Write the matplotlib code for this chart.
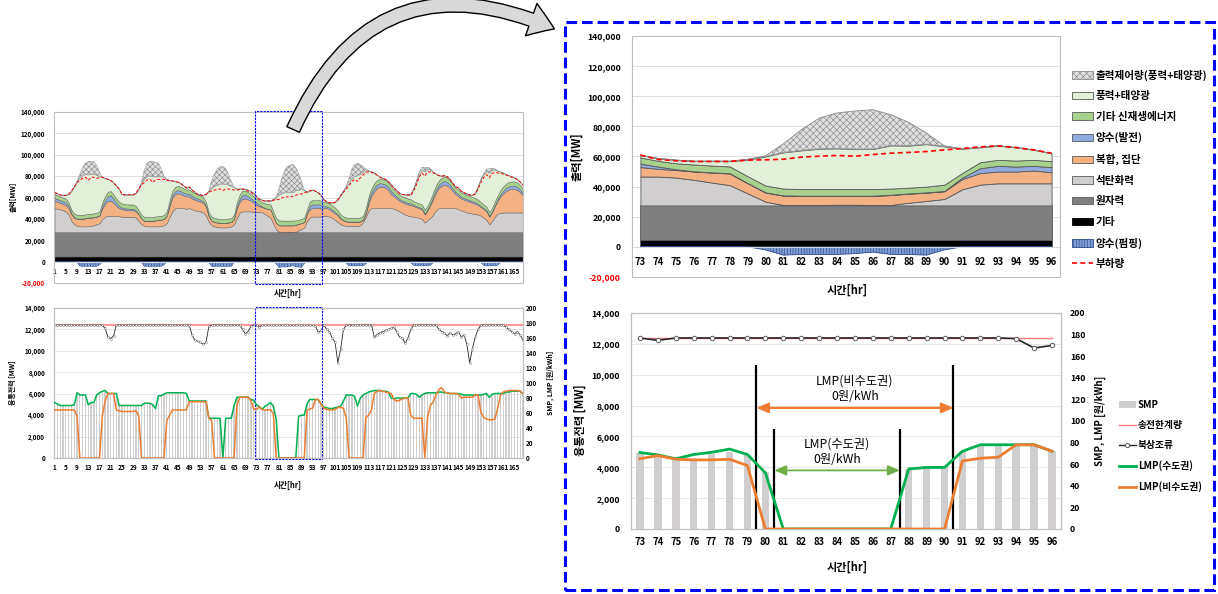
import numpy as np
import matplotlib
matplotlib.use('Agg')
import matplotlib.pyplot as plt
from matplotlib.patches import Patch, Rectangle, FancyArrowPatch
from matplotlib.lines import Line2D
from matplotlib.transforms import blended_transform_factory

plt.rcParams['font.family'] = ['Noto Sans CJK KR', 'DejaVu Sans']
plt.rcParams['hatch.linewidth'] = 0.45
plt.rcParams['axes.unicode_minus'] = False

W, H = 1218, 594

# ---- one week, hourly ----
hours = np.arange(1, 169)
etc_gw = 4.5        # 기타
nuclear_gw = 23.0   # 원자력

coal_gw = [
    22.5, 22, 21.5, 20.5, 19.5, 16.5, 10.5, 7.5, 6, 5.5, 5.5, 5.5, 5.5, 6, 6.5, 7.5, 8.5, 12.5, 14.5, 15.5, 15.5, 15.5, 15, 15,
    14.5, 14.5, 14.5, 14.5, 14.5, 13.5, 10.5, 7.5, 6, 5.5, 5.5, 5.5, 5.5, 5.5, 6, 6.5, 8.5, 14.5, 19.5, 22.5, 22.5, 22.5, 22.5, 22,
    22.5, 21.5, 20.5, 20, 19.5, 18.5, 15.5, 9.5, 6.5, 5.5, 5, 4.5, 4.5, 4.5, 5, 5.5, 7.5, 13.5, 18.5, 19.5, 19.5, 19.5, 19.5, 19,
    19.2, 19.2, 18.5, 17, 15.2, 13.5, 8, 2.5, 0.3, 0.3, 0.3, 0.5, 0.5, 0.3, 0.3, 1.8, 3, 4.3, 10.7, 13.8, 14.7, 14.7, 14.7, 14.7,
    15.5, 15.5, 14.5, 13.5, 11.5, 9.5, 7.5, 6.5, 6, 6, 6, 6, 6, 6.5, 9.5, 14.5, 20.5, 22.5, 22.5, 22.5, 22.5, 22.5, 22.5, 22.5,
    22.5, 22, 21, 19.5, 18, 16.5, 15.5, 15, 14.5, 14, 13.5, 12.5, 9, 11.5, 13.5, 16.5, 20.5, 22.5, 22.5, 22.5, 22.5, 22.5, 22.5, 22.5,
    21.5, 20.5, 19.5, 18.5, 18, 17.5, 17, 16.5, 15.5, 13.5, 11.5, 7.5, 10.5, 14.5, 17.5, 18, 18.5, 18.5, 18.5, 18.5, 18.5, 18.5, 18.5, 18.5,
]
lng_gw = [
    7, 6.5, 6, 6, 6, 6, 6, 6, 6.5, 7, 7, 7.5, 8, 7.5, 7.5, 7, 7, 10, 12, 14, 14, 12, 9.5, 7.5,
    7, 6.5, 6, 6, 6, 6, 6, 5, 4.5, 5, 5, 5, 5.5, 6, 5.5, 6, 7, 10, 13, 13, 14, 13, 12, 11.5,
    11, 10, 10, 9.5, 9, 9, 8, 5, 4, 4, 4, 4, 4, 4, 4, 4, 5, 9, 10, 12, 12, 11, 10, 8.5,
    6.3, 5.1, 5, 5.5, 6.6, 7.7, 6.7, 6, 6.2, 6, 6, 5.8, 5.8, 6, 6.6, 6, 5.5, 5.1, 6.8, 7.7, 7.8, 7.8, 8.5, 7.3,
    7.5, 7, 7, 6, 6, 6, 5, 4.5, 4, 3.7, 3.7, 3.7, 3.7, 3.5, 2, 3, 7, 12, 16, 19, 20, 20, 19, 17,
    13, 11.5, 10.5, 10, 10, 10.5, 10.5, 10.5, 10, 9.5, 9, 9, 7.5, 9, 12, 15, 17, 19, 21, 22, 21, 19, 16, 13,
    12, 11, 11, 11, 10.5, 10, 9.5, 9, 8, 8, 8, 7, 8, 10, 12, 15.5, 18, 20, 21.5, 22, 22, 21, 19, 16,
]
pump_gen_gw = [
    2.5, 2.5, 2.5, 2.5, 2.5, 2, 1, 0.5, 0.3, 0.3, 0.3, 0.3, 0.3, 0.3, 0.3, 0.3, 0.5, 2, 3.5, 4.5, 5, 4, 3, 2,
    1.5, 1.5, 1.5, 1.5, 1.5, 1, 0.5, 0.3, 0.3, 0.3, 0.3, 0.3, 0.3, 0.3, 0.3, 0.3, 0.5, 1.5, 2.5, 3, 3, 3, 2.5, 2.5,
    2.5, 2.5, 2, 2, 2, 1.5, 1, 0.5, 0.3, 0.3, 0.3, 0.3, 0.3, 0.3, 0.3, 0.3, 0.5, 2, 3, 3.5, 3.5, 3, 2.5, 2,
    2.3, 1.5, 0.5, 0.2, 0.2, 0.2, 0.2, 0.2, 0.2, 0.2, 0.2, 0.2, 0.2, 0.2, 0.2, 0.2, 0.2, 0.2, 1, 3.2, 3.8, 3.3, 3.1, 3.4,
    1.5, 1.5, 1.5, 1.5, 1.5, 1, 0.5, 0.3, 0.3, 0.3, 0.3, 0.3, 0.3, 0.3, 0.5, 1.5, 2.5, 3, 3.5, 3.5, 3.5, 3, 3, 3,
    3, 2.5, 2, 1.5, 1.5, 1.5, 1.5, 1.5, 1, 1, 1, 1, 1, 1, 1.5, 2, 2.5, 3, 3.5, 3.5, 3.5, 3, 2.5, 2,
    2, 1.5, 1.5, 1.5, 1.5, 1.5, 1.5, 1, 1, 1, 1, 1, 1, 1, 1.5, 2, 2.5, 3, 3, 3, 3, 3, 2.5, 2.5,
]
other_re_gw = [
    3.5, 3.5, 3.5, 3.5, 3.5, 3.5, 3.5, 3.5, 3.5, 3.5, 3.5, 3.5, 3.5, 3.5, 3.5, 3.5, 3.5, 3.5, 4, 4, 4, 4, 4, 4,
    4, 4, 4, 4, 4, 4, 3.5, 3.5, 3.5, 3.5, 3.5, 3.5, 3.5, 3.5, 3.5, 3.5, 3.5, 4, 4, 4, 4, 4, 4, 4,
    4, 4, 4, 4, 4, 4, 3.5, 3.5, 3.5, 3.5, 3.5, 3.5, 3.5, 3.5, 3.5, 3.5, 3.5, 4, 4, 4, 4, 4, 4, 4,
    4, 3.8, 4, 4.5, 4.5, 4.5, 4.5, 4.5, 4.5, 4.4, 4.4, 4.4, 4.4, 4.4, 4.1, 3.8, 3.8, 4.2, 3, 4, 4, 4, 4, 4,
    4, 4, 4, 4, 4, 4, 3.5, 3.5, 3.5, 3.5, 3.5, 3.5, 3.5, 3.5, 3.5, 4, 4, 4, 4, 4, 4, 4, 4, 4,
    4, 4, 4, 4, 4, 4, 4, 4, 3.5, 3.5, 3.5, 3.5, 3.5, 3.5, 3.5, 4, 4, 4, 4, 4, 4, 4, 4, 4,
    4, 4, 4, 4, 4, 4, 4, 4, 3.5, 3.5, 3.5, 3.5, 3.5, 3.5, 3.5, 4, 4, 4, 4, 4, 4, 4, 4, 4,
]
wind_solar_gw = [
    2, 1.5, 1.5, 2, 3, 7.5, 17.5, 25, 31.2, 35.2, 37.2, 37.7, 36.7, 37.2, 36.7, 35.2, 33, 23.5, 16.5, 11.5, 10, 11, 12, 12,
    8.5, 8.5, 9, 9, 9, 12, 20, 29.2, 36.2, 38.2, 38.7, 38.2, 37.2, 37.2, 37.2, 35.2, 30, 18.5, 9, 5, 3.5, 3, 2.5, 1.5,
    2.5, 1.5, 1, 0, 0.5, 1.5, 7.5, 20, 27.2, 30.2, 31.7, 33.2, 33.2, 32.7, 31.7, 29.7, 25.5, 12, 5, 1.5, 1.5, 2, 2.5, 3,
    1.6, 1.6, 2.1, 2.2, 2.9, 3.5, 10.9, 19.3, 24, 25.6, 26.7, 26.9, 26.5, 26.5, 28.6, 27.8, 28.2, 25.4, 16.1, 9.8, 9.3, 8.7, 6.6, 5.1,
    2, 0.5, 0.5, 2.5, 5, 10, 18, 23.7, 28.7, 33, 37, 39, 40, 40.7, 41, 35, 23.5, 15, 9.5, 4.5, 1.5, 1, 1, 1,
    2, 1.5, 1.5, 1.5, 2, 2.5, 3.5, 4.5, 11.5, 19.5, 27.5, 32.5, 35.5, 34.5, 28, 19, 10.5, 4.5, 1.5, 1, 1, 1, 1, 1,
    2, 1.5, 1, 1, 1, 1.5, 4.5, 12, 21.5, 28.5, 33.5, 36.5, 35.5, 29.5, 23, 17, 12.5, 8.5, 6, 4.5, 3.5, 3, 3, 3,
]
curtail_gw = [
    0, 0, 0, 0, 0, 0, 0, 0, 0, 3, 7, 10, 12, 12, 11.5, 9, 4, 0, 0, 0, 0, 0, 0, 0,
    0, 0, 0, 0, 0, 0, 0, 2, 8, 12, 13.5, 14, 13.5, 12, 7, 1, 0, 0, 0, 0, 0, 0, 0, 0,
    0, 0, 0, 0, 0, 0, 0, 0, 7, 11, 15, 16, 16, 14.5, 10, 4.5, 0, 0, 0, 0, 0, 0, 0, 0,
    0, 0, 0, 0, 0, 0, 0.4, 0.5, 5.7, 13.8, 20.4, 23.6, 25.3, 26.2, 20.5, 15.6, 7.4, 0.4, 0, 0, 0, 0, 0, 0,
    0, 0, 0, 0, 0, 0, 0, 0, 1, 4, 9, 11, 11, 9, 5, 1, 0, 0, 0, 0, 0, 0, 0, 0,
    0, 0, 0, 0, 0, 0, 0, 0, 0, 0, 2, 2.5, 4, 1.5, 1, 0, 0, 0, 0, 0, 0, 0, 0, 0,
    0, 0, 0, 0, 0, 0, 0, 0, 0, 0, 1.5, 4, 1.5, 1, 0, 0, 0, 0, 0, 0, 0, 0, 0, 0,
]
pump_load_gw = [
    0, 0, 0, 0, 0, 0, 0, 0, -1, -4, -4.5, -4.5, -4.5, -4.5, -4.5, -4.5, -3, -0.5, 0, 0, 0, 0, 0, 0,
    0, 0, 0, 0, 0, 0, 0, -1, -4.5, -4.5, -4.5, -4.5, -4.5, -4.5, -4.5, -3, -0.5, 0, 0, 0, 0, 0, 0, 0,
    0, 0, 0, 0, 0, 0, 0, -1, -4.5, -4.5, -4.5, -4.5, -4.5, -4.5, -4.5, -4.5, -1, 0, 0, 0, 0, 0, 0, 0,
    0, 0, 0, 0, 0, 0, 0, -2, -5.5, -5, -5, -5, -4.5, -3.5, -5, -5, -5.5, -2, 0, 0, 0, 0, 0, 0,
    0, 0, 0, 0, 0, 0, 0, 0, -1.5, -4, -4, -4, -4, -4, -4, -2, 0, 0, 0, 0, 0, 0, 0, 0,
    0, 0, 0, 0, 0, 0, 0, -1, -3.5, -4, -4, -4, -4, -4, -3.5, -1, 0, 0, 0, 0, 0, 0, 0, 0,
    0, 0, 0, 0, 0, 0, 0, 0, -1, -3.5, -4, -4, -4, -4, -3.5, -1, 0, 0, 0, 0, 0, 0, 0, 0,
]
load_gw = [
    65, 63.5, 62.5, 62, 62, 63, 66, 70, 74, 76, 78, 79, 76, 79, 79, 78, 78.5, 79, 78, 77, 76, 74, 71, 68,
    63, 62.5, 62.5, 62.5, 62.5, 64, 68, 72, 74, 76.5, 77, 74, 76.5, 77, 77, 77, 76, 76, 75.5, 75, 74.5, 73, 71, 69,
    70, 67, 65, 63, 62.5, 62, 63, 65, 66, 67, 67.5, 68, 66.5, 68, 68, 67.5, 67, 67, 67.5, 68, 67, 66, 65, 63,
    61, 58, 57.1, 56.7, 56.7, 56.7, 57.6, 57.8, 58.2, 59.6, 60.2, 60.7, 60.2, 61.3, 62.2, 62.7, 63.3, 64.4, 65.3, 66.4, 67.1, 66, 64.4, 62.2,
    58, 56, 55, 55, 55.5, 58, 62, 65, 68, 71, 75, 77, 75, 78.5, 81, 83.5, 84, 83.5, 82.5, 81, 79, 78, 77, 75,
    72, 69, 66.5, 64, 63, 62.5, 62.5, 62, 66, 72, 79, 83, 80, 84, 84, 83, 82, 80.5, 80, 80.5, 79.5, 77, 73.5, 70,
    69, 66, 64.5, 63.5, 62.5, 62, 63.5, 68, 74, 78.5, 81.5, 78.5, 82.5, 83.5, 83, 82.5, 82, 81, 80, 79, 78, 77, 74.5, 71.5,
]

# 원/kWh
smp = [
    74, 71, 70, 70, 70, 70, 70, 71, 86, 84, 84, 84, 72, 74, 74, 84, 87, 89, 90, 86, 86, 86, 85, 70,
    70, 70, 70, 70, 70, 70, 70, 71, 73, 73, 73, 71, 67, 82, 83, 85, 87, 87, 87, 87, 87, 87, 87, 86,
    76, 76, 76, 76, 76, 76, 76, 54, 53, 53, 53, 53, 0, 53, 53, 53, 70, 81, 81, 81, 81, 81, 78, 76,
    70, 68, 65.5, 64.6, 69.5, 71.7, 68.6, 53, 0, 0, 0, 0, 0, 0, 0, 56, 58, 58, 72, 78, 78, 78, 78, 72,
    68, 67, 66, 66, 67, 68, 69, 76, 84, 84, 84, 82, 70, 80, 84, 86, 88, 89, 90, 90, 90, 89, 89, 88,
    80, 79, 80, 80, 80, 80, 80, 86, 86, 85, 81, 84, 86, 87, 87, 87, 87, 88, 88, 87, 87, 86, 86, 86,
    86, 85, 84, 84, 84, 84, 84, 84, 84, 85, 86, 81, 85, 86, 86, 86, 86, 88, 88, 89, 89, 89, 89, 86,
]
lmp_cap = [
    74, 72, 70, 70, 70, 70, 70, 71, 87, 84, 84, 84, 71, 74, 74, 84, 87, 89, 90, 86, 86, 86, 86, 70,
    70, 70, 70, 70, 70, 70, 70, 70, 73, 73, 73, 71, 66, 83, 83, 85, 87, 87, 87, 87, 87, 87, 87, 86,
    76, 76, 76, 76, 76, 76, 76, 53, 53, 53, 53, 53, 0, 53, 53, 53, 70, 81, 81, 81, 81, 81, 78, 77,
    70.8, 68.6, 65, 69, 71, 74, 69, 52, 0, 0, 0, 0, 0, 0, 0, 55.6, 57, 57, 72, 78, 78, 78, 78, 72,
    68, 67, 66, 66, 67, 68, 69, 76, 84, 84, 84, 82, 69, 80, 84, 86, 88, 89, 90, 90, 90, 89, 89, 88,
    80, 79, 80, 80, 80, 80, 80, 86, 86, 85, 81, 84, 86, 87, 87, 87, 87, 88, 88, 87, 87, 86, 86, 86,
    86, 85, 84, 84, 84, 84, 84, 84, 84, 85, 86, 81, 85, 86, 86, 86, 86, 88, 88, 89, 89, 89, 89, 86,
]
lmp_noncap = [
    64, 64, 64, 64, 64, 64, 64, 64, 56, 0, 0, 0, 0, 0, 0, 0, 0, 56, 76, 86, 86, 86, 64, 63,
    62, 62, 62, 62, 62, 63, 56, 0, 0, 0, 0, 0, 0, 0, 0, 0, 50, 57, 64, 64, 64, 64, 64, 64,
    75, 75, 75, 75, 75, 75, 75, 53, 50, 0, 0, 0, 0, 0, 0, 0, 0, 70, 81, 81, 81, 81, 77, 65,
    65, 68, 64.6, 64, 64, 64.6, 58.7, 0, 0, 0, 0, 0, 0, 0, 0, 0, 0, 0, 63, 65.5, 66.5, 78, 78, 72,
    66, 65, 64, 64, 65, 67, 68, 66, 53, 0, 0, 0, 0, 0, 0, 54, 57, 64, 86, 89, 90, 89, 88, 87,
    86, 78, 76, 77, 79, 80, 80, 57, 53, 53, 53, 53, 0, 54, 70, 75, 84, 91, 94, 88, 87, 86, 86, 86,
    85, 80, 81, 81, 81, 81, 84, 84, 61, 54, 52, 51, 51, 52, 66, 84, 88, 89, 90, 90, 90, 90, 89, 86,
]
# MW
flow_mw = [
    12400, 12400, 12400, 12400, 12400, 12400, 12400, 12400, 12400, 12400, 12400, 12400,
    12400, 12400, 12400, 12400, 12400, 12400, 12100, 11300, 11150, 11400, 12400, 12400,
    12400, 12400, 12400, 12400, 12400, 12400, 12400, 12400, 12400, 12400, 12400, 12400,
    12400, 12400, 12400, 12400, 12400, 12400, 12400, 12400, 12400, 12400, 12400, 12400,
    12400, 11500, 11000, 10900, 10800, 10600, 10800, 12300, 12400, 12400, 12400, 12400,
    12400, 12400, 12400, 12400, 12400, 12400, 12400, 12000, 11600, 11800, 12300, 12400,
    12380, 12230, 12380, 12380, 12380, 12380, 12380, 12380, 12380, 12380, 12380, 12380,
    12380, 12380, 12380, 12380, 12380, 12380, 12380, 12380, 12380, 12340, 11730, 11900,
    12400, 12000, 11800, 11200, 10800, 8900, 10200, 12000, 12400, 12400, 12400, 12400,
    12400, 12400, 12400, 12400, 12400, 12400, 11300, 11500, 11700, 11800, 11900, 12000,
    12100, 12200, 11800, 11300, 11200, 10700, 11200, 12000, 12400, 12400, 12400, 12400,
    12400, 12400, 12400, 12400, 12400, 12000, 11800, 11700, 11400, 11700, 11500, 11600,
    11800, 11300, 11500, 10600, 8900, 10200, 11300, 12000, 12400, 12400, 12400, 12400,
    12400, 12400, 12400, 12400, 12400, 12200, 12000, 11800, 11600, 11800, 11500, 11000,
]
limit_mw = 12400

# zero-price spans marked in the zoomed chart
noncap_zero = (79.5, 90.5)
cap_zero = (80.5, 87.5)

coal = np.array(coal_gw) * 1000
lng = np.array(lng_gw) * 1000
pump_gen = np.array(pump_gen_gw) * 1000
other_re = np.array(other_re_gw) * 1000
wind_solar = np.array(wind_solar_gw) * 1000
curtail = np.array(curtail_gw) * 1000
pump_load = np.array(pump_load_gw) * 1000
load = np.array(load_gw) * 1000
smp = np.array(smp)
lmp_cap = np.array(lmp_cap)
lmp_noncap = np.array(lmp_noncap)
flow = np.array(flow_mw)

CURT_FC, CURT_EC = '#dedede', '#8a8a8a'
PUMP_FC, PUMP_EC = '#7f9fd6', '#2a4a8a'

fig = plt.figure(figsize=(W / 100, H / 100), dpi=100)


def box(x0, y0, x1, y1):
    return [x0 / W, 1 - y1 / H, (x1 - x0) / W, (y1 - y0) / H]


def frame(ax):
    ax.add_patch(Rectangle((0, 0), 1, 1, transform=ax.transAxes, fill=False,
                           ec='#bfbfbf', lw=0.8, clip_on=False, zorder=4))


def supply_chart(rect, s, xlim, fs_y, ypad, xpad, lw, hx, hp, load_lw):
    ax = fig.add_axes(box(*rect))
    h = hours[s]
    n = len(h)
    layers = [(np.full(n, etc_gw * 1000), '#000000'),
              (np.full(n, nuclear_gw * 1000), '#7f7f7f'),
              (coal[s], '#d0cece'), (lng[s], '#f4b183'), (pump_gen[s], '#8faadc'),
              (other_re[s], '#a9d18e'), (wind_solar[s], '#e2f0d9')]
    base = np.zeros(n)
    for vals, col in layers:
        ax.fill_between(h, base, base + vals, facecolor=col, edgecolor='#595959', linewidth=lw, zorder=1)
        base = base + vals
    ax.fill_between(h, base, base + curtail[s], facecolor=CURT_FC, edgecolor=CURT_EC,
                    hatch=hx, linewidth=lw, zorder=1)
    ax.fill_between(h, pump_load[s], 0, facecolor=PUMP_FC, edgecolor=PUMP_EC,
                    hatch=hp, linewidth=lw, zorder=1)
    ax.plot(h, load[s], color='#ff0000', ls=(0, (3, 2)), lw=load_lw, zorder=3)

    ax.set_xlim(*xlim)
    ax.set_ylim(-20000, 140000)
    yt = np.arange(-20000, 140001, 20000)
    ax.set_yticks(yt, labels=[f'{v:,}' for v in yt], fontsize=fs_y, fontweight='bold')
    ax.get_yticklabels()[0].set_color('#ff0000')
    for v in yt[2:]:
        ax.axhline(v, color='#d9d9d9', lw=0.6, zorder=0.5)
    for k in ['left', 'right', 'top']:
        ax.spines[k].set_visible(False)
    ax.spines['bottom'].set_position(('data', 0))
    ax.spines['bottom'].set_color('#d9d9d9')
    ax.tick_params(length=0)
    ax.tick_params(axis='y', pad=ypad)
    ax.tick_params(axis='x', pad=xpad)
    frame(ax)
    return ax


def flow_chart(rect, s, xlim, fs, ypad, y2pad, xpad, bar_w, lmp_lw, ms, mew, lim_color, lim_lw, flow_lw):
    ax = fig.add_axes(box(*rect))
    ax2 = ax.twinx()
    h = hours[s]
    ax.plot(h, np.full(len(h), limit_mw), color=lim_color, lw=lim_lw, zorder=2)
    ax.plot(h, flow[s], color='#262626', lw=flow_lw, marker='o', ms=ms, mfc='white',
            mec='#595959', mew=mew, zorder=3)
    ax2.bar(h, smp[s], width=bar_w, color='#d0cece', zorder=1)
    ax2.plot(h, lmp_cap[s], color='#00b050', lw=lmp_lw, zorder=3)
    ax2.plot(h, lmp_noncap[s], color='#ed7d31', lw=lmp_lw, zorder=3)

    ax.set_xlim(*xlim)
    ax.set_ylim(0, 14000)
    ax2.set_ylim(0, 200)
    yt = np.arange(0, 14001, 2000)
    ax.set_yticks(yt, labels=[f'{v:,}' for v in yt], fontsize=fs, fontweight='bold')
    yt2 = np.arange(0, 201, 20)
    ax2.set_yticks(yt2, labels=[str(v) for v in yt2], fontsize=fs, fontweight='bold')
    for v in yt[1:-1]:
        ax.axhline(v, color='#e3e3e3', lw=0.6, zorder=0.5)
    for a in (ax, ax2):
        for sp in a.spines.values():
            sp.set_color('#bfbfbf')
            sp.set_linewidth(0.8)
        a.tick_params(length=0)
    ax.tick_params(axis='y', pad=ypad)
    ax2.tick_params(axis='y', pad=y2pad)
    ax.tick_params(axis='x', pad=xpad)
    return ax, ax2


# ---- left overview charts (168 h) ----
week = slice(0, 168)
xt_week = np.arange(1, 169, 4)
ax_a = supply_chart((53.5, 112, 523.5, 283), week, (0.6, 168.2), 4.5, 6, 4.5, 0.3,
                    'xxxxxx', '||||||', 0.7)
ax_a.set_xticks(xt_week, labels=[str(v) for v in xt_week], fontsize=4.6, fontweight='bold')

ax_b, ax_b2 = flow_chart((53.5, 308, 523.5, 458), week, (0.6, 168.2), 4.5, 6, 1.5, 4.5,
                         0.45, 1.1, 1.4, 0.3, '#ff9b9b', 1.6, 0.6)
ax_b.set_xticks(xt_week, labels=[str(v) for v in xt_week], fontsize=4.6, fontweight='bold')

for ax in (ax_a, ax_b):
    tr = blended_transform_factory(ax.transData, ax.transAxes)
    ax.add_patch(Rectangle((72.4, -0.005), 23.9, 1.01, transform=tr, fill=False, ec='#0000ff',
                           lw=0.8, ls=(0, (2, 1)), clip_on=False, zorder=6))

fig.text(13 / W, 1 - 197 / H, '출력[MW]', rotation=90, ha='center', va='center', fontsize=5, fontweight='bold')
fig.text(288 / W, 1 - 293 / H, '시간[hr]', ha='center', va='center', fontsize=5.5, fontweight='bold')
fig.text(13 / W, 1 - 383 / H, '융통전력 [MW]', rotation=90, ha='center', va='center', fontsize=5, fontweight='bold')
fig.text(550 / W, 1 - 383 / H, 'SMP, LMP [원/kWh]', rotation=90, ha='center', va='center', fontsize=5, fontweight='bold')
fig.text(288 / W, 1 - 485 / H, '시간[hr]', ha='center', va='center', fontsize=5.5, fontweight='bold')

# ---- right zoomed charts (hours 73-96) ----
zoom = slice(72, 96)
xt_zoom = np.arange(73, 97)
ax_c = supply_chart((632, 36, 1060, 277), zoom, (72.53, 96.47), 6.3, 8, 7, 0.6,
                    'xxxxx', '||||||', 1.2)
ax_c.set_xticks(xt_zoom, labels=[str(v) for v in xt_zoom], fontsize=6.8, fontweight='bold')

ax_d, ax_d2 = flow_chart((631, 313, 1061, 529), zoom, (72.5, 96.5), 6.3, 8, 6.5, 6,
                         0.42, 2.0, 3.2, 0.7, '#ff7c80', 1.0, 1.2)
ax_d.set_xticks(xt_zoom, labels=[str(v) for v in xt_zoom], fontsize=6.8, fontweight='bold')

# zero-price markers
ax_d.vlines(noncap_zero, 0, 10600, colors='black', lw=1.6, zorder=4)
ax_d.vlines(cap_zero, 0, 6500, colors='black', lw=1.6, zorder=4)
ax_d.annotate('', xy=(noncap_zero[1], 7850), xytext=(noncap_zero[0], 7850),
              arrowprops=dict(arrowstyle='<|-|>,head_length=0.7,head_width=0.3', color='#ed7d31',
                              lw=1.6, shrinkA=0, shrinkB=0), zorder=5)
ax_d.annotate('', xy=(cap_zero[1], 3800), xytext=(cap_zero[0], 3800),
              arrowprops=dict(arrowstyle='<|-|>,head_length=0.7,head_width=0.3', color='#70ad47',
                              lw=1.3, shrinkA=0, shrinkB=0), zorder=5)
ax_d.text(sum(noncap_zero) / 2, 9100, 'LMP(비수도권)\n0원/kWh', ha='center', va='center',
          fontsize=8.8, linespacing=1.25, zorder=6)
ax_d.text(84.0, 5000, 'LMP(수도권)\n0원/kWh', ha='center', va='center',
          fontsize=8.8, linespacing=1.25, zorder=6)

fig.text(577 / W, 1 - 157 / H, '출력[MW]', rotation=90, ha='center', va='center', fontsize=8, fontweight='bold')
fig.text(847 / W, 1 - 290 / H, '시간[hr]', ha='center', va='center', fontsize=8, fontweight='bold')
fig.text(580 / W, 1 - 420 / H, '융통전력 [MW]', rotation=90, ha='center', va='center', fontsize=8, fontweight='bold')
fig.text(1100 / W, 1 - 421 / H, 'SMP, LMP [원/kWh]', rotation=90, ha='center', va='center', fontsize=7, fontweight='bold')
fig.text(847 / W, 1 - 567 / H, '시간[hr]', ha='center', va='center', fontsize=8, fontweight='bold')

# legends
supply_handles = [
    Patch(facecolor=CURT_FC, edgecolor=CURT_EC, hatch='xxxxx', lw=0.6),
    Patch(facecolor='#e2f0d9', edgecolor='#595959', lw=0.6),
    Patch(facecolor='#a9d18e', edgecolor='#595959', lw=0.6),
    Patch(facecolor='#8faadc', edgecolor='#595959', lw=0.6),
    Patch(facecolor='#f4b183', edgecolor='#595959', lw=0.6),
    Patch(facecolor='#d0cece', edgecolor='#595959', lw=0.6),
    Patch(facecolor='#7f7f7f', edgecolor='#595959', lw=0.6),
    Patch(facecolor='#000000', edgecolor='#000000', lw=0.6),
    Patch(facecolor=PUMP_FC, edgecolor=PUMP_EC, hatch='||||||', lw=0.6),
    Line2D([], [], color='#ff0000', ls=(0, (3, 2)), lw=1.2),
]
supply_labels = ['출력제어량(풍력+태양광)', '풍력+태양광', '기타 신재생에너지', '양수(발전)', '복합, 집단',
                 '석탄화력', '원자력', '기타', '양수(펌핑)', '부하량']
fig.legend(supply_handles, supply_labels, loc='upper left', bbox_to_anchor=(1072 / W, 1 - 69.5 / H),
           frameon=False, prop={'size': 7.6, 'weight': 'bold'}, handlelength=2.0, handleheight=0.7,
           handletextpad=0.25, labelspacing=1.0, borderpad=0, borderaxespad=0)

flow_handles = [
    Patch(facecolor='#d0cece', edgecolor='none'),
    Line2D([], [], color='#ff7c80', lw=1.0),
    Line2D([], [], color='#262626', lw=1.0, marker='o', ms=3, mfc='white', mec='#595959', mew=0.7),
    Line2D([], [], color='#00b050', lw=2.0),
    Line2D([], [], color='#ed7d31', lw=2.0),
]
flow_labels = ['SMP', '송전한계량', '북상조류', 'LMP(수도권)', 'LMP(비수도권)']
fig.legend(flow_handles, flow_labels, loc='upper left', bbox_to_anchor=(1119 / W, 1 - 400 / H),
           frameon=False, prop={'size': 7, 'weight': 'bold'}, handlelength=1.7, handleheight=0.7,
           handletextpad=0.25, labelspacing=1.04, borderpad=0, borderaxespad=0)

# zoom frame and arrow
fig.add_artist(Rectangle((565 / W, 1 - 590 / H), (1214 - 565) / W, (590 - 22) / H,
                         transform=fig.transFigure, fill=False, ec='#0000ff', lw=2.2,
                         ls=(0, (3.5, 1.6)), zorder=10))
fig.add_artist(FancyArrowPatch((292 / W, 1 - 132 / H), (557 / W, 1 - 30 / H),
                               transform=fig.transFigure, connectionstyle='arc3,rad=-0.5',
                               arrowstyle='simple,head_length=0.4,head_width=0.55,tail_width=0.22',
                               mutation_scale=45, fc='#d9d9d9', ec='black', lw=1.0, zorder=11))

fig.savefig('out.png', dpi=100)
